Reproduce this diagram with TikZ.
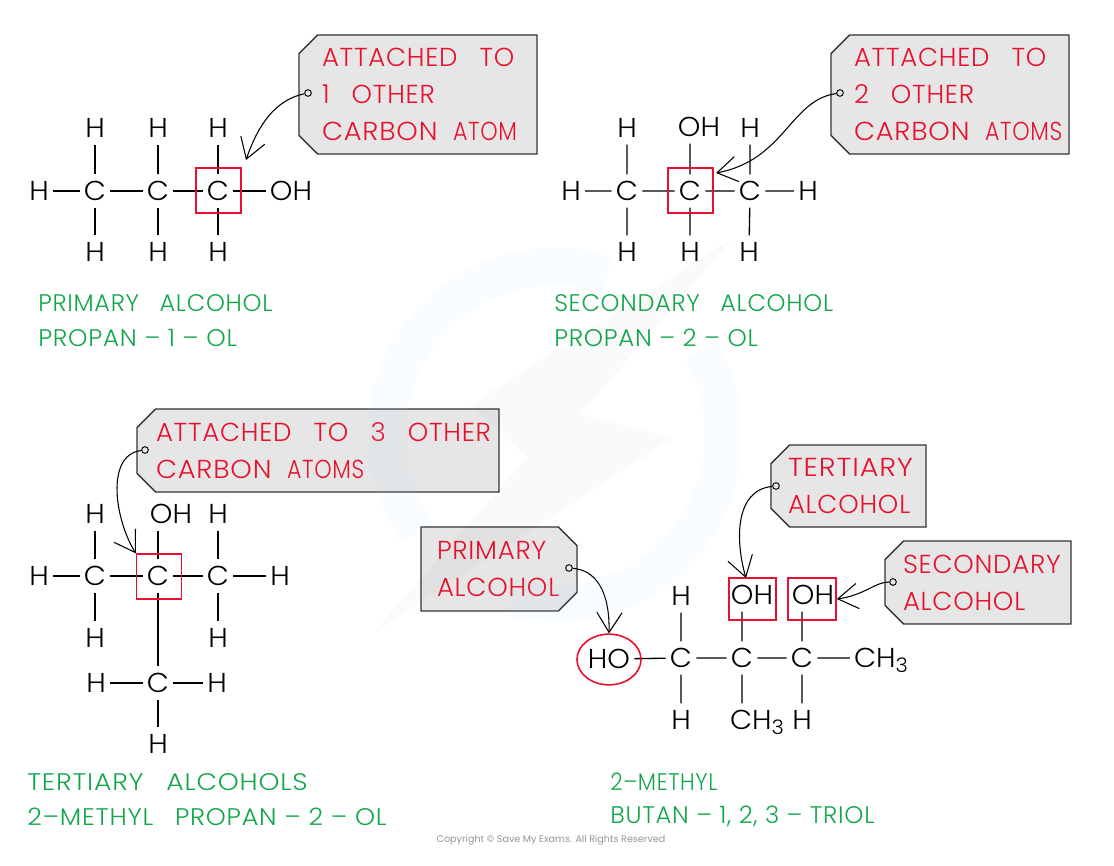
\documentclass[tikz,border=0pt]{standalone}
\usepackage{graphicx}
\usepackage{fontspec}
\usetikzlibrary{arrows.meta,shapes.misc,shapes.geometric,calc}
\setmainfont{Poppins}
\newfontfamily\labfont[UprightFont=* Light,LetterSpace=3]{Poppins}
\newfontfamily\atomfam[UprightFont=* Light,FakeStretch=1.05]{Poppins}
\definecolor{tagred}{HTML}{E8112D}
\definecolor{labgreen}{HTML}{12A64A}
\definecolor{tagfill}{HTML}{E6E6E6}
\definecolor{tagline}{HTML}{333333}
\newcommand{\subthree}{\raisebox{-.3ex}{\fontsize{15}{15}\selectfont 3}}
\newcommand{\gp}{\hspace{.85em}}
\newcommand{\gq}{\hspace{.6em}}
\newcommand{\sx}[2]{\scalebox{#1}[1]{#2}}
\tikzset{
  atom/.style={font=\atomfam\fontsize{20.5}{20.5}\selectfont,text=black,inner xsep=3pt,inner ysep=5pt,text height=14.5pt,text depth=0pt},
  bond/.style={draw=black,line width=1pt},
  redbox/.style={draw=tagred,line width=1.2pt,rectangle,inner sep=0pt},
  tag/.style n args={3}{chamfered rectangle,chamfered rectangle xsep=7pt,chamfered rectangle ysep=7pt,
    draw=tagline,fill=tagfill,line width=1pt,minimum width=0.75pt*#1-15pt,minimum height=0.75pt*#2,
    inner xsep=0.75pt*#3-7pt,inner ysep=0pt,text width=0.75pt*(#1-2*#3),align=left,text=tagred,
    font=\labfont\fontsize{19.5}{27.75}\selectfont},
  tagl/.style={chamfered rectangle corners={north west,south west}},
  tagr/.style={chamfered rectangle corners={north east,south east}},
  lab/.style={anchor=base west,inner sep=0pt,text=labgreen,font=\labfont\fontsize{18}{18}\selectfont},
  dot/.style={circle,draw=black,fill=none,line width=.7pt,minimum size=5pt,inner sep=0pt},
  pointer/.style={draw=black,line width=.8pt,-{Straight Barb[length=15pt,width=19pt,line width=.8pt]}},
}
\begin{document}
\begin{tikzpicture}[x=0.75pt,y=-0.75pt]
\useasboundingbox (0,0) rectangle (1114,865);
% ---- diagram 1
\node[atom] (ah) at (39,191) {H};
\node[atom] (ac1) at (95,191) {C};
\node[atom] (ac2) at (158,191) {C};
\node[atom] (ac3) at (218,191) {C};
\node[atom] (aoh) at (291,191) {OH};
\node[atom] (at1) at (95,128) {H};
\node[atom] (at2) at (158,128) {H};
\node[atom] (at3) at (218,128) {H};
\node[atom] (ab1) at (95,252) {H};
\node[atom] (ab2) at (158,252) {H};
\node[atom] (ab3) at (218,252) {H};
\draw[bond] (ah)--(ac1) (ac1)--(ac2) (ac2)--(ac3) (ac3)--(aoh)
  (at1)--(ac1) (at2)--(ac2) (at3)--(ac3) (ac1)--(ab1) (ac2)--(ab2) (ac3)--(ab3);
\node[redbox,minimum size=33.5pt] (asq) at (218.5,190.5) {};
\node[tag={238}{119}{23},tagl] (atag) at (418,94.5) {\mbox{ATTACHED\gp TO}\\\mbox{1\gp OTHER}\\\mbox{\sx{1.05}{CARBON}\gq\sx{.85}{ATOM}}};
\node[dot] (adot) at (308,93) {};
\coordinate (aend) at (246,160);
\draw[pointer] (adot) .. controls (275,100) and (258,125) .. (aend);
\node[lab] (al1) at (38,311) {PRIMARY\gp ALCOHOL};
\node[lab] (al2) at (38,346) {\sx{1.03}{PROPAN – 1 – OL}};
% ---- diagram 2
\node[atom] (bh) at (571,191) {H};
\node[atom] (bc1) at (627,191) {C};
\node[atom] (bc2) at (690,191) {C};
\node[atom] (bc3) at (750,191) {C};
\node[atom] (bhr) at (808,191) {H};
\node[atom] (bt1) at (627,128) {H};
\node[atom] (bt2) at (699,127) {OH};
\node[atom] (bt3) at (750,128) {H};
\node[atom] (bb1) at (627,252) {H};
\node[atom] (bb2) at (690,252) {H};
\node[atom] (bb3) at (749,252) {H};
\draw[bond] (bh)--(bc1) (bc1)--(bc2) (bc2)--(bc3) (bc3)--(bhr)
  (bt1)--(bc1) (bc2)--(bc2|-bt2.south) (bt3)--(bc3) (bc1)--(bb1) (bc2)--(bb2) (bc3)--(bb3);
\node[redbox,minimum size=33.5pt] (bsq) at (690.5,190.5) {};
\node[tag={238}{119}{23},tagl] (btag) at (950,94.5) {\mbox{ATTACHED\gp TO}\\\mbox{2\gp OTHER}\\\mbox{\sx{1.05}{CARBON}\gq\sx{.85}{ATOMS}}};
\node[dot] (bdot) at (840,93) {};
\coordinate (bend) at (716,173);
\draw[pointer] (bdot) .. controls (790,100) and (785,160) .. (bend);
\node[lab] (bl1) at (554,311) {SECONDARY\gp ALCOHOL};
\node[lab] (bl2) at (554,346) {\sx{1.02}{PROPAN – 2 – OL}};
% ---- diagram 3
\node[atom] (ch) at (39,576) {H};
\node[atom] (cc1) at (95,576) {C};
\node[atom] (cc2) at (158,576) {C};
\node[atom] (cc3) at (218,576) {C};
\node[atom] (chr) at (280,576) {H};
\node[atom] (ct1) at (95,514) {H};
\node[atom] (ct2) at (171,514) {OH};
\node[atom] (ct3) at (218,514) {H};
\node[atom] (cb1) at (95,638) {H};
\node[atom] (cb3) at (218,638) {H};
\node[atom] (cc4) at (158,683) {C};
\node[atom] (cl) at (96,683) {H};
\node[atom] (cr) at (217,683) {H};
\node[atom] (cbb) at (158,744) {H};
\draw[bond] (ch)--(cc1) (cc1)--(cc2) (cc2)--(cc3) (cc3)--(chr)
  (ct1)--(cc1) (cc2)--(cc2|-ct2.south) (ct3)--(cc3) (cc1)--(cb1) (cc3)--(cb3)
  (cc2)--(cc4) (cl)--(cc4) (cc4)--(cr) (cc4)--(cbb);
\node[redbox,minimum size=33.5pt] (csq) at (159,576.5) {};
\node[tag={362}{83}{19},tagl] (ctag) at (318,450.5) {\mbox{ATTACHED\gp TO\gp 3\gp OTHER}\\\mbox{\sx{1.05}{CARBON}\gq\sx{.85}{ATOMS}}};
\node[dot] (cdot) at (145,450) {};
\draw[pointer] (cdot) .. controls (105,455) and (115,520) .. (csq.north west);
\node[lab] (cl1) at (27,790) {\sx{1.11}{TERTIARY\gp ALCOHOLS}};
\node[lab] (cl2) at (27,825) {\sx{1.06}{2–METHYL\gp PROPAN – 2 – OL}};
% ---- diagram 4
\node[atom] (dho) at (609,659) {HO};
\node[atom] (dc1) at (681,658) {C};
\node[atom] (dc2) at (742,658) {C};
\node[atom] (dc3) at (802,658) {C};
\node[atom] (dch) at (881,658) {CH\subthree};
\node[atom] (dt1) at (681,596) {H};
\node[atom] (dt2) at (752,595) {OH};
\node[atom] (dt3) at (813,595) {OH};
\node[atom] (db1) at (681,720) {H};
\node[atom] (db2) at (757,720) {CH\subthree};
\node[atom] (db3) at (802,720) {H};
\draw[bond] (dho)--(dc1) (dc1)--(dc2) (dc2)--(dc3) (dc3)--(dch)
  (dt1)--(dc1) (dc2)--(dc2|-dt2.south) (dc3)--(dc3|-dt3.south)
  (dc1)--(db1) (dc2)--(dc2|-db2.north) (dc3)--(db3);
\node[redbox,minimum width=35pt,minimum height=31.5pt] (dsq1) at (752.5,599) {};
\node[redbox,minimum width=36pt,minimum height=31.5pt] (dsq2) at (812,599) {};
\node[draw=tagred,line width=1.2pt,ellipse,minimum width=48pt,minimum height=38pt,inner sep=0pt] (dell) at (609,659.5) {};
\node[tag={155}{82}{17},tagl] (dtag1) at (848.5,486) {\mbox{\sx{1.1}{TERTIARY}}\\\mbox{ALCOHOL}};
\node[tag={186}{83}{18},tagl] (dtag2) at (978,582.5) {\mbox{SECONDARY}\\\mbox{ALCOHOL}};
\node[tag={156}{84}{16},tagr] (dtag3) at (499,569) {\mbox{PRIMARY}\\\mbox{ALCOHOL}};
\node[dot] (ddot1) at (776,486) {};
\node[dot] (ddot2) at (893,582) {};
\node[dot] (ddot3) at (569,568) {};
\coordinate (dend1) at (746,578);
\draw[pointer] (ddot1) .. controls (735,490) and (735,540) .. (dend1);
\draw[pointer] (ddot2) .. controls (875,582) and (865,595) .. (dsq2.east);
\draw[pointer] (ddot3) .. controls (595,570) and (610,590) .. (dell.north);
\node[lab] (dl1) at (610,790) {\sx{.9}{2–METHYL}};
\node[lab] (dl2) at (610,823) {\sx{1.012}{BUTAN – 1, 2, 3 – TRIOL}};
% ---- copyright
\node[inner sep=0pt,text=black!42,font=\fontsize{7.2}{8}\selectfont] (copy) at (551,840) {Copyright © Save My Exams. All Rights Reserved};
% ---- watermark
\coordinate (wm) at (555,435);
\fill[blue!40!cyan!30,opacity=.07] ($(wm)+(72:140.25pt)$) arc[start angle=72,end angle=215,radius=140.25pt]
  -- ($(wm)+(215:112.5pt)$) arc[start angle=215,end angle=72,radius=112.5pt] -- cycle;
\fill[blue!40!cyan!30,opacity=.07] ($(wm)+(30:140.25pt)$) arc[start angle=30,end angle=-105,radius=140.25pt]
  -- ($(wm)+(-105:112.5pt)$) arc[start angle=-105,end angle=30,radius=112.5pt] -- cycle;
\fill[black,opacity=.02] (733,238) -- (470,405) -- (527,457) -- (373,633) -- (673,438) -- (580,415) -- cycle;
\end{tikzpicture}
\end{document}
